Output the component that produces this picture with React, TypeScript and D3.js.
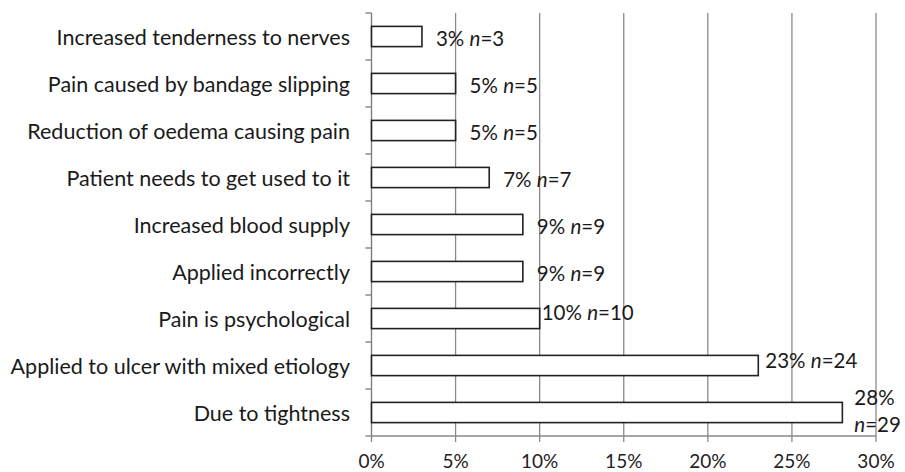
import React from "react";
import * as d3 from "d3";

const categories = [
  "Increased tenderness to nerves",
  "Pain caused by bandage slipping",
  "Reduction of oedema causing pain",
  "Patient needs to get used to it",
  "Increased blood supply",
  "Applied incorrectly",
  "Pain is psychological",
  "Applied to ulcer with mixed etiology",
  "Due to tightness",
];
const percents = [3, 5, 5, 7, 9, 9, 10, 23, 28];
const counts = [3, 5, 5, 7, 9, 9, 10, 24, 29];
const xTicks = [0, 5, 10, 15, 20, 25, 30];

const W = 905;
const H = 472;
const FONT = "Lato, 'Open Sans', sans-serif";

export default function App() {
  const x = d3.scaleLinear().domain([0, 30]).range([371.5, 876]);
  const y = d3
    .scaleBand<string>()
    .domain(categories)
    .range([13, 436])
    .paddingInner(0.57)
    .paddingOuter(0.285);
  const step = y.step();
  const top = 13;
  const bottom = 436;
  const boundaries = d3.range(categories.length + 1).map((i) => top + i * step);

  // label nudges (dx, dy) relative to bar end / bar centre
  const nudge = (i: number): [number, number] => {
    if (percents[i] === 10) return [2, -7];
    if (percents[i] === 23) return [7, -6];
    return [14, 1];
  };

  return (
    <svg
      width={W}
      height={H}
      style={{ position: "absolute", left: 0, top: 0, background: "#fff" }}
      fontFamily={FONT}
    >
      {/* gridlines */}
      {xTicks.slice(1).map((t) => (
        <line key={"g" + t} x1={x(t)} x2={x(t)} y1={top} y2={bottom} stroke="#8a8a8a" strokeWidth={1.3} />
      ))}
      {/* y axis */}
      <line x1={x(0)} x2={x(0)} y1={top} y2={bottom} stroke="#777" strokeWidth={1.3} />
      {boundaries.map((b, i) => (
        <line key={"yt" + i} x1={x(0) - 6} x2={x(0)} y1={b} y2={b} stroke="#777" strokeWidth={1.3} />
      ))}
      {/* x axis */}
      <line x1={x(0)} x2={x(30)} y1={bottom} y2={bottom} stroke="#888" strokeWidth={1.3} />
      {xTicks.map((t) => (
        <g key={"xt" + t}>
          <line x1={x(t)} x2={x(t)} y1={bottom} y2={bottom + 6} stroke="#888" strokeWidth={1.3} />
          <text x={x(t)} y={467.5} textAnchor="middle" fontSize={19} fill="#222">
            {t + "%"}
          </text>
        </g>
      ))}
      {/* bars */}
      {categories.map((c, i) => (
        <rect
          key={"b" + i}
          x={x(0)}
          y={y(c)!}
          width={x(percents[i]) - x(0)}
          height={y.bandwidth()}
          fill="#fff"
          stroke="#222"
          strokeWidth={1.6}
        />
      ))}
      {/* category labels */}
      {categories.map((c, i) => (
        <text
          key={"c" + i}
          x={350}
          y={y(c)! + y.bandwidth() / 2}
          textAnchor="end"
          dominantBaseline="central"
          fontSize={21.5}
          fill="#1a1a1a"
        >
          {c}
        </text>
      ))}
      {/* value labels */}
      {categories.map((c, i) => {
        const cy = y(c)! + y.bandwidth() / 2;
        const xe = x(percents[i]);
        if (percents[i] === 28) {
          return (
            <text key={"v" + i} fontSize={20.5} fill="#1a1a1a" dominantBaseline="central">
              <tspan x={xe + 12} y={cy - 16}>{percents[i] + "%"}</tspan>
              <tspan x={xe + 12} y={cy + 11}>
                <tspan fontStyle="italic">n</tspan>
                {"=" + counts[i]}
              </tspan>
            </text>
          );
        }
        const [dx, dy] = nudge(i);
        return (
          <text key={"v" + i} x={xe + dx} y={cy + dy} fontSize={20.5} fill="#1a1a1a" dominantBaseline="central">
            {percents[i] + "% "}
            <tspan fontStyle="italic">n</tspan>
            {"=" + counts[i]}
          </text>
        );
      })}
    </svg>
  );
}
